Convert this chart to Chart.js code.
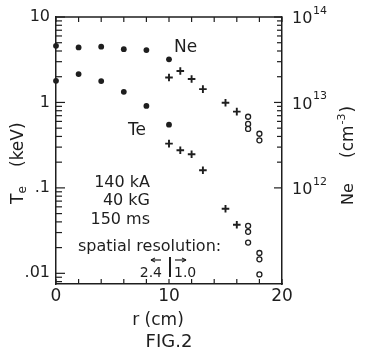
<!DOCTYPE html>
<html>
<head>
<meta charset="utf-8">
<script src="https://cdn.jsdelivr.net/npm/chart.js@4.4.1/dist/chart.umd.min.js"></script>
<style>
  html, body { margin: 0; padding: 0; background: #fff; }
  #wrap { width: 371px; height: 352px; position: relative; }
</style>
</head>
<body>
<div id="wrap"><canvas id="fig"></canvas></div>
<script>
// radial positions (cm)
const rDots = [0, 2, 4, 6, 8, 10];
const rCross = [10, 11, 12, 13, 15, 16];
const rNeOpen = [17, 17, 17, 18, 18];
const rTeOpen = [17, 17, 17, 18, 18, 18];

// Ne (cm^-3), right axis
const neDots = [4.6e13, 4.4e13, 4.5e13, 4.2e13, 4.1e13, 3.2e13];
const neCross = [1.96e13, 2.33e13, 1.88e13, 1.43e13, 9.9e12, 7.8e12];
const neOpen = [6.8e12, 5.6e12, 4.9e12, 4.3e12, 3.6e12];

// Te (keV), left axis
const teDots = [1.79, 2.15, 1.78, 1.33, 0.91, 0.55];
const teCross = [0.33, 0.276, 0.248, 0.161, 0.057, 0.037];
const teOpen = [0.036, 0.0306, 0.0229, 0.0173, 0.0146, 0.0097];

// tick labels
const teTickVals = [0.01, 0.1, 1, 10];
const teTickText = ['.01', '.1', '1', '10'];
const rTickText = ['0', '10', '20'];
const neTickExp = ['12', '13', '14'];

const ink = '#1e1e1e';
const FONT = "'DejaVu Sans', sans-serif";
Chart.defaults.font.family = FONT;
Chart.defaults.color = ink;

const pairs = (xs, ys) => xs.map((v, i) => ({ x: v, y: ys[i] }));

function dots(data, axis) {
    return { data, yAxisID: axis, pointStyle: 'circle', pointRadius: 2.9,
             backgroundColor: ink, borderColor: ink, borderWidth: 0, showLine: false, clip: false };
}
function crosses(data, axis) {
    return { data, yAxisID: axis, pointStyle: 'cross', pointRadius: 3.8,
             borderColor: ink, borderWidth: 1.9, showLine: false, clip: false };
}
function rings(data, axis) {
    return { data, yAxisID: axis, pointStyle: 'circle', pointRadius: 2.5,
             backgroundColor: '#fff', borderColor: ink, borderWidth: 1.3, showLine: false, clip: false };
}

// frame ticks, right axis labels, titles and notes
const figDecor = {
    id: 'figDecor',
    afterDraw(chart) {
        const { ctx, chartArea: a, scales: { x, y, y2 } } = chart;
        const line = (x1, y1, x2, y2_) => { ctx.beginPath(); ctx.moveTo(x1, y1); ctx.lineTo(x2, y2_); ctx.stroke(); };
        ctx.save();
        ctx.strokeStyle = ink;
        ctx.fillStyle = ink;
        ctx.lineWidth = 1.5;
        line(a.left, a.top, a.right, a.top);

        ctx.lineWidth = 1.2;
        for (let r = 0; r <= 20; r += 2) {
            const px = x.getPixelForValue(r);
            line(px, a.bottom, px, a.bottom - 5);
            line(px, a.top, px, a.top + 5);
        }
        for (let e = -3; e <= 1; e++) {
            for (let m = 1; m <= 9; m++) {
                const v = m * Math.pow(10, e);
                if (v < y.min || v > y.max) continue;
                const py = y.getPixelForValue(v);
                line(a.left, py, a.left + (m === 1 ? 9 : 6), py);
            }
        }
        for (let e = 12; e <= 14; e++) {
            for (let m = 1; m <= 9; m++) {
                const v = m * Math.pow(10, e);
                if (v > y2.max) continue;
                const py = y2.getPixelForValue(v);
                line(a.right, py, a.right - (m === 1 ? 8 : 5), py);
            }
        }

        // right tick labels 10^n
        ctx.textBaseline = 'middle';
        ctx.textAlign = 'left';
        neTickExp.forEach(n => {
            const py = y2.getPixelForValue(Math.pow(10, +n));
            ctx.font = '16px ' + FONT;
            ctx.fillText('10', a.right + 10, py + 2);
            ctx.font = '11px ' + FONT;
            ctx.fillText(n, a.right + 31, py - 6);
        });

        // left title  Te (keV)
        ctx.save();
        ctx.translate(19, 204);
        ctx.rotate(-Math.PI / 2);
        ctx.font = '17px ' + FONT;
        ctx.fillText('T', 0, 0);
        ctx.font = '12px ' + FONT;
        ctx.fillText('e', 10.5, 4);
        ctx.font = '17px ' + FONT;
        ctx.fillText('(keV)', 37, 0);
        ctx.restore();

        // right title  Ne (cm-3)
        ctx.save();
        ctx.translate(349, 205);
        ctx.rotate(-Math.PI / 2);
        ctx.font = '16px ' + FONT;
        ctx.fillText('Ne', 0, 0);
        ctx.font = '17px ' + FONT;
        ctx.fillText('(cm', 47, 0);
        const w = ctx.measureText('(cm').width;
        ctx.font = '11px ' + FONT;
        ctx.fillText('-3', 47 + w + 1, -7);
        const w2 = ctx.measureText('-3').width;
        ctx.font = '17px ' + FONT;
        ctx.fillText(')', 47 + w + w2 + 2, 0);
        ctx.restore();

        // bottom captions
        ctx.textAlign = 'center';
        ctx.textBaseline = 'alphabetic';
        ctx.font = '17px ' + FONT;
        ctx.fillText('r (cm)', 158, 325);
        ctx.font = '18px ' + FONT;
        ctx.fillText('FIG.2', 169, 347);

        // curve labels
        ctx.textAlign = 'left';
        ctx.font = '17px ' + FONT;
        ctx.fillText('Ne', 174, 52);
        ctx.fillText('Te', 128, 135);

        // discharge parameters
        ctx.textAlign = 'right';
        ctx.font = '16px ' + FONT;
        ctx.fillText('140 kA', 150, 186.5);
        ctx.fillText('40 kG', 150, 205);
        ctx.fillText('150 ms', 150, 223.5);
        ctx.textAlign = 'left';
        ctx.fillText('spatial resolution:', 78, 251);

        ctx.font = '14px ' + FONT;
        ctx.textAlign = 'right';
        ctx.fillText('2.4', 162, 277);
        ctx.textAlign = 'left';
        ctx.fillText('1.0', 174, 277);
        ctx.lineWidth = 2;
        line(170, 257, 170, 277);
        ctx.lineWidth = 1.2;
        line(151, 260, 161, 260);
        line(151, 260, 155, 258);
        line(151, 260, 155, 262);
        line(175, 260, 186, 260);
        line(186, 260, 182, 258);
        line(186, 260, 182, 262);
        ctx.restore();
    }
};

new Chart(document.getElementById('fig'), {
    type: 'scatter',
    data: {
        datasets: [
            dots(pairs(rDots, neDots), 'y2'),
            crosses(pairs(rCross, neCross), 'y2'),
            rings(pairs(rNeOpen, neOpen), 'y2'),
            dots(pairs(rDots, teDots), 'y'),
            crosses(pairs(rCross, teCross), 'y'),
            rings(pairs(rTeOpen, teOpen), 'y')
        ]
    },
    options: {
        responsive: true,
        maintainAspectRatio: false,
        animation: false,
        layout: { padding: { top: 17, left: 0, right: 0, bottom: 0 } },
        plugins: { legend: { display: false }, tooltip: { enabled: false } },
        scales: {
            x: {
                type: 'linear', position: 'bottom', min: 0, max: 20,
                grid: { display: false, drawTicks: false },
                border: { display: true, color: ink, width: 1.5 },
                ticks: {
                    stepSize: 10, autoSkip: false, maxRotation: 0, padding: 2,
                    font: { size: 17 }, color: ink,
                    callback: v => rTickText[v / 10] ?? ''
                },
                afterFit: s => { s.height = 68; }
            },
            y: {
                type: 'logarithmic', position: 'left', min: 0.0075, max: 10,
                grid: { display: false, drawTicks: false },
                border: { display: true, color: ink, width: 1.5 },
                ticks: {
                    autoSkip: false, padding: 6, font: { size: 16 }, color: ink,
                    callback: v => {
                        const i = teTickVals.findIndex(t => Math.abs(v - t) / t < 1e-6);
                        return i < 0 ? '' : teTickText[i];
                    }
                },
                afterFit: s => { s.width = 56; }
            },
            y2: {
                type: 'logarithmic', position: 'right', min: 7.5e10, max: 1e14,
                grid: { display: false, drawTicks: false },
                border: { display: true, color: ink, width: 1.5 },
                ticks: { display: false },
                afterFit: s => { s.width = 89; }
            }
        }
    },
    plugins: [figDecor]
});
</script>
</body>
</html>
